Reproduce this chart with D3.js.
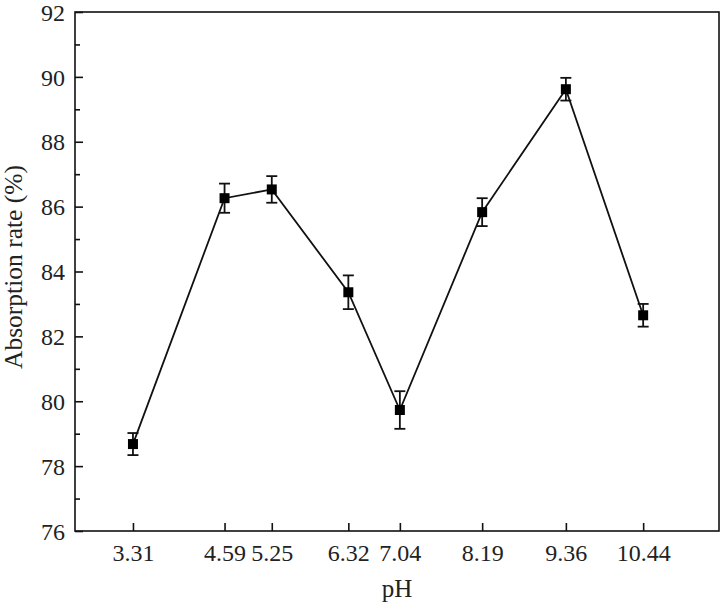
<!DOCTYPE html>
<html>
<head>
<meta charset="utf-8">
<script src="https://cdn.jsdelivr.net/npm/d3@7"></script>
<style>
  body { margin: 0; background: #fff; }
  text { font-family: "Liberation Serif", "Times New Roman", serif; fill: #222; }
</style>
</head>
<body>
<svg id="chart"></svg>
<script>
// pH values and absorption rate readings
const phValues = [3.31, 4.59, 5.25, 6.32, 7.04, 8.19, 9.36, 10.44];
const absorption = [78.68, 86.26, 86.53, 83.36, 79.73, 85.83, 89.62, 82.65];
const errors = [0.34, 0.45, 0.41, 0.52, 0.58, 0.43, 0.35, 0.35];
const yTicks = [76, 78, 80, 82, 84, 86, 88, 90, 92];
const yMinorTicks = [77, 79, 81, 83, 85, 87, 89, 91];

const width = 723;
const height = 604;
const margin = { top: 12, right: 4, bottom: 73, left: 75 };

const svg = d3.select("#chart")
  .attr("width", width)
  .attr("height", height);

const x = d3.scaleLinear()
  .domain([2.5, 11.5])
  .range([margin.left, width - margin.right]);

const y = d3.scaleLinear()
  .domain([76, 92])
  .range([height - margin.bottom, margin.top]);

const data = phValues.map((p, i) => ({ ph: p, val: absorption[i], err: errors[i] }));

// frame
svg.append("rect")
  .attr("x", margin.left)
  .attr("y", margin.top)
  .attr("width", width - margin.right - margin.left)
  .attr("height", height - margin.bottom - margin.top)
  .attr("fill", "none")
  .attr("stroke", "#111")
  .attr("stroke-width", 1.6);

// y axis, ticks point inward
const yAxis = svg.append("g")
  .attr("transform", "translate(" + margin.left + ",0)")
  .call(d3.axisRight(y).tickValues(yTicks).tickSize(8).tickFormat(d3.format("d")));
yAxis.select(".domain").remove();
yAxis.selectAll("line").attr("stroke", "#111").attr("stroke-width", 1.6);
yAxis.selectAll("text")
  .attr("x", -10)
  .attr("dy", "0.34em")
  .attr("text-anchor", "end")
  .style("font-size", "24px");

const yMinor = svg.append("g")
  .attr("transform", "translate(" + margin.left + ",0)")
  .call(d3.axisRight(y).tickValues(yMinorTicks).tickSize(5).tickFormat(""));
yMinor.select(".domain").remove();
yMinor.selectAll("line").attr("stroke", "#111").attr("stroke-width", 1.6);

// x axis, ticks only at the measured pH values
const xAxis = svg.append("g")
  .attr("transform", "translate(0," + (height - margin.bottom) + ")")
  .call(d3.axisTop(x).tickValues(phValues).tickSize(8).tickFormat(d => d.toString()));
xAxis.select(".domain").remove();
xAxis.selectAll("line").attr("stroke", "#111").attr("stroke-width", 1.6);
xAxis.selectAll("text")
  .attr("y", 30)
  .attr("dy", 0)
  .style("font-size", "24px");

// axis titles
svg.append("text")
  .attr("x", x(7))
  .attr("y", 597)
  .attr("text-anchor", "middle")
  .style("font-size", "25px")
  .text("pH");

svg.append("text")
  .attr("transform", "translate(22,267) rotate(-90)")
  .attr("text-anchor", "middle")
  .style("font-size", "25.5px")
  .text("Absorption rate (%)");

// line
svg.append("path")
  .datum(data)
  .attr("fill", "none")
  .attr("stroke", "#111")
  .attr("stroke-width", 1.8)
  .attr("d", d3.line().x(d => x(d.ph)).y(d => y(d.val)));

// error bars
const eb = svg.append("g").selectAll("g")
  .data(data)
  .join("g")
  .attr("stroke", "#111")
  .attr("stroke-width", 1.8);

eb.append("line")
  .attr("x1", d => x(d.ph)).attr("x2", d => x(d.ph))
  .attr("y1", d => y(d.val + d.err)).attr("y2", d => y(d.val - d.err));
eb.append("line")
  .attr("x1", d => x(d.ph) - 5.5).attr("x2", d => x(d.ph) + 5.5)
  .attr("y1", d => y(d.val + d.err)).attr("y2", d => y(d.val + d.err));
eb.append("line")
  .attr("x1", d => x(d.ph) - 5.5).attr("x2", d => x(d.ph) + 5.5)
  .attr("y1", d => y(d.val - d.err)).attr("y2", d => y(d.val - d.err));

// square markers
svg.append("g").selectAll("rect")
  .data(data)
  .join("rect")
  .attr("x", d => x(d.ph) - 5)
  .attr("y", d => y(d.val) - 5)
  .attr("width", 10)
  .attr("height", 10)
  .attr("fill", "#000");
</script>
</body>
</html>
